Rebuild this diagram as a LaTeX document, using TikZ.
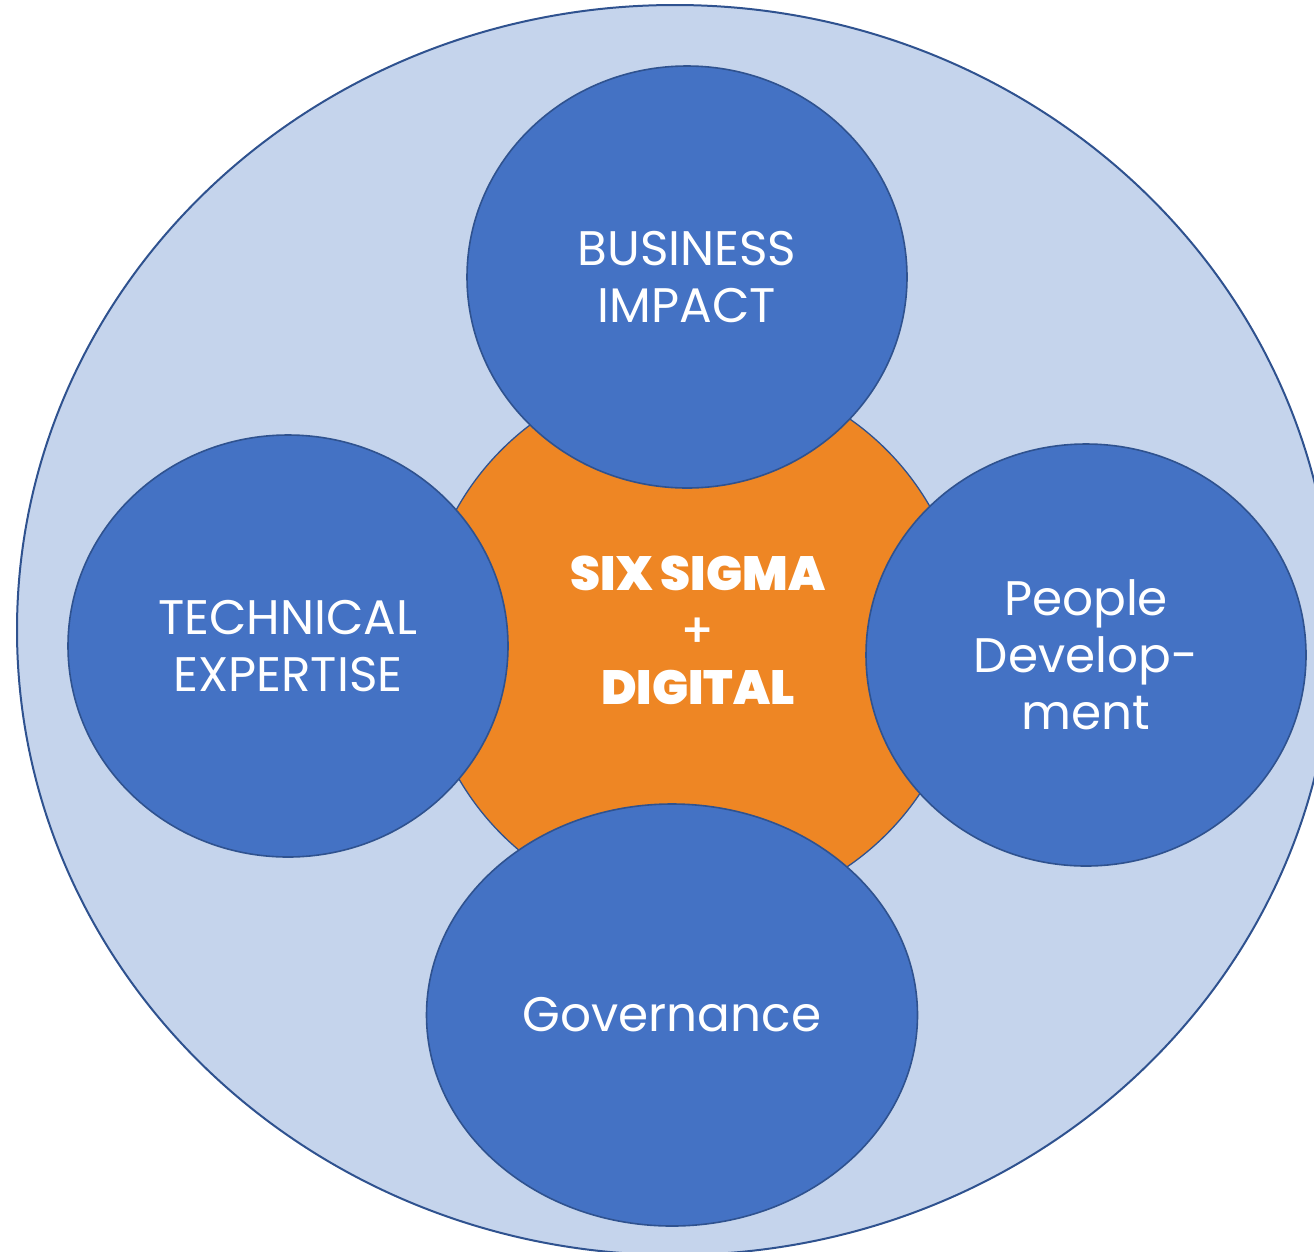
\documentclass[tikz,border=0pt]{standalone}
\usepackage{fontspec}
\setmainfont{Poppins}
\IfFontExistsTF{Poppins Black}{\newfontfamily\heavyfont{Poppins Black}}{\newcommand\heavyfont{\bfseries}}
\IfFontExistsTF{Poppins Medium}{\newfontfamily\plusfont{Poppins Medium}}{\newcommand\plusfont{\normalfont}}
\usetikzlibrary{shapes.geometric}
\definecolor{bgblue}{HTML}{C5D4EC}
\definecolor{midblue}{HTML}{4472C4}
\definecolor{edgeblue}{HTML}{2F528F}
\definecolor{coreorange}{HTML}{EE8624}
\begin{document}
\begin{tikzpicture}[x=1pt,y=-1pt,
  outerring/.style={ellipse, draw=edgeblue, line width=2pt, fill=bgblue, inner sep=0pt},
  core/.style={circle, draw=edgeblue, line width=1.3pt, fill=coreorange, inner sep=0pt, minimum size=544pt},
  pillar/.style={ellipse, draw=edgeblue, line width=1.6pt, fill=midblue, inner sep=0pt,
    minimum width=440pt, minimum height=422pt, text=white, align=center,
    font=\fontsize{48.5}{57}\selectfont},
  coretext/.style={text=white, align=center, font=\heavyfont\fontsize{48}{57}\selectfont}]
\useasboundingbox (0,0) rectangle (1314,1251);
\clip (0,0) rectangle (1314,1251);
\node[outerring, minimum width=1316pt, minimum height=1250pt] (outer) at (675,630) {};
\node[core] (core) at (694,642) {};
\node[pillar] (business) at (687,277) {BUSINESS\\IMPACT};
\node[pillar] (technical) at (288,646) {TECHNICAL\\EXPERTISE};
\node[pillar] (people) at (1086,655) {People\\Develop-\\ment};
\node[pillar, minimum width=491pt] (governance) at (672,1015) {Governance};
\node[coretext] (label) at (698,630) {SIX SIGMA\\{\plusfont +}\\DIGITAL};
\end{tikzpicture}
\end{document}
